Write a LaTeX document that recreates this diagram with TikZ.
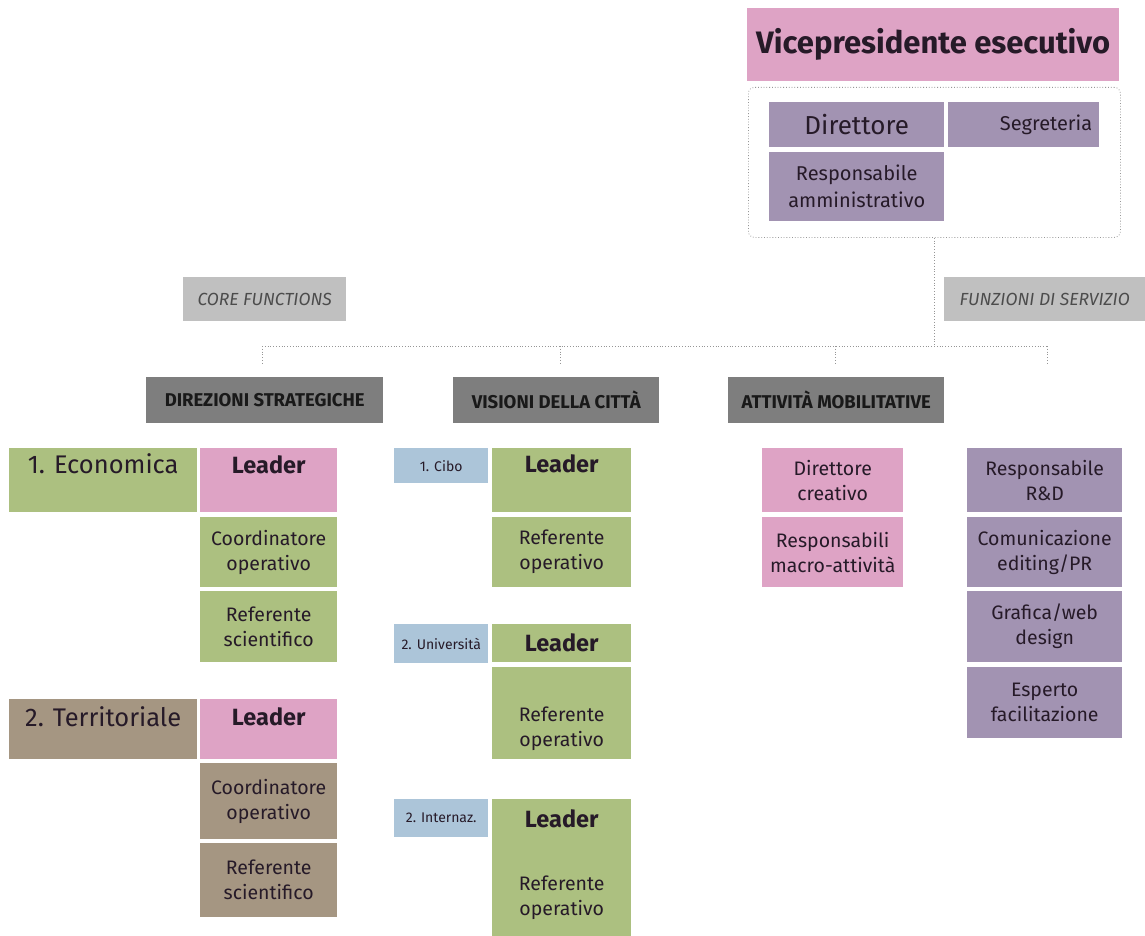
\documentclass[tikz,border=0pt]{standalone}
\usepackage{fontspec}
\setmainfont{Fira Sans}
\usetikzlibrary{positioning}
\definecolor{ink}{RGB}{38,26,40}
\definecolor{pinkfill}{RGB}{222,163,197}
\definecolor{lilac}{RGB}{162,147,178}
\definecolor{greenfill}{RGB}{172,192,128}
\definecolor{brownfill}{RGB}{165,150,130}
\definecolor{bluefill}{RGB}{172,197,217}
\definecolor{headgray}{RGB}{126,126,126}
\definecolor{taggray}{RGB}{192,192,192}
\definecolor{linegray}{RGB}{150,150,150}
\def\CxA{9}
\def\CxB{200}
\def\CxC{394}
\def\CxD{492}
\def\CxE{762}
\def\CxF{967}
\tikzset{
  cell/.style={
    anchor=north west, inner sep=0pt, align=center, text=ink,
    font=\fontsize{19.5}{25}\selectfont,
  },
  lead/.style={cell, font=\fontsize{23.5}{26}\selectfont\bfseries},
  area/.style={cell, font=\fontsize{25.5}{28}\selectfont},
  city/.style={cell, fill=bluefill, minimum width=94pt, font=\fontsize{14}{16}\selectfont},
  head/.style={
    cell, fill=headgray, minimum height=46pt,
    font=\fontsize{18.5}{21}\selectfont\bfseries, text=black!90,
  },
  tag/.style={
    cell, fill=taggray, minimum height=44pt,
    font=\fontsize{17.5}{20}\selectfont\itshape, text=black!70,
  },
  staffbox/.style={anchor=north west, draw=linegray, dotted, line width=0.8pt, rounded corners=6pt},
  bus/.style={draw=linegray, dotted, line width=0.8pt},
}
\begin{document}
\begin{tikzpicture}[x=1pt,y=-1pt]
  \useasboundingbox (0,0) rectangle (1145,936);

  % vertice
  \node[cell, fill=pinkfill, minimum width=372pt, minimum height=73pt, font=\fontsize{31}{34}\selectfont\bfseries] (vp) at (747,8) {Vicepresidente esecutivo};
  \node[staffbox, minimum width=372pt, minimum height=150pt] (staff) at (748,87) {};
  \node[cell, fill=lilac, minimum width=175pt, minimum height=45pt, font=\fontsize{26}{28}\selectfont] (dir) at (769,102) {Direttore};
  \node[cell, fill=lilac, text width=137pt, inner xsep=7pt, align=right, minimum height=45pt, font=\fontsize{20}{22}\selectfont] (seg) at (948,102) {Segreteria};
  \node[cell, fill=lilac, minimum width=175pt, minimum height=69pt, font=\fontsize{20}{27}\selectfont] (amm) at (769,152) {Responsabile\\amministrativo};

  \node[tag, minimum width=163pt] (core) at (183,277) {CORE FUNCTIONS};
  \node[tag, minimum width=201pt] (serv) at (944,277) {FUNZIONI DI SERVIZIO};

  % linee
  \coordinate (busL) at (262,346);
  \coordinate (busR) at (1047,346);
  \coordinate (drop1) at (262,364);
  \coordinate (drop2) at (560,364);
  \coordinate (drop3) at (835,364);
  \coordinate (drop4) at (1047,364);
  \draw[bus] (staff.south) -- (staff.south |- busL);
  \draw[bus] (busL) -- (busR);
  \foreach \n in {1,...,4} \draw[bus] (drop\n |- busL) -- (drop\n);

  \node[head, minimum width=237pt] (hdS) at (146,377) {DIREZIONI STRATEGICHE};
  \node[head, minimum width=206pt] (hdV) at (453,377) {VISIONI DELLA CITTÀ};
  \node[head, minimum width=216pt] (hdA) at (728,377) {ATTIVITÀ MOBILITATIVE};

  % direzioni strategiche
  \node[area, fill=greenfill, minimum width=188pt, text height=25pt, text depth=39pt] (eco) at (\CxA,448) {1. Economica};
  \node[lead, fill=pinkfill, minimum width=137pt, text height=25pt, text depth=39pt] (ld1) at (\CxB,448) {Leader};
  \node[cell, fill=greenfill, minimum width=137pt, minimum height=70pt] (co1) at (\CxB,517) {Coordinatore\\operativo};
  \node[cell, fill=greenfill, minimum width=137pt, minimum height=71pt] (rs1) at (\CxB,591) {Referente\\scientifico};
  \node[area, fill=brownfill, minimum width=188pt, text height=27pt, text depth=33pt] (ter) at (\CxA,699) {2. Territoriale};
  \node[lead, fill=pinkfill, minimum width=137pt, text height=26pt, text depth=34pt] (ld2) at (\CxB,699) {Leader};
  \node[cell, fill=brownfill, minimum width=137pt, minimum height=76pt] (co2) at (\CxB,763) {Coordinatore\\operativo};
  \node[cell, fill=brownfill, minimum width=137pt, minimum height=74pt] (rs2) at (\CxB,843) {Referente\\scientifico};

  % visioni della citta
  \node[city, minimum height=35pt] (cibo) at (\CxC,448) {1. Cibo};
  \node[lead, fill=greenfill, minimum width=139pt, text height=24pt, text depth=40pt] (ld3) at (\CxD,448) {Leader};
  \node[cell, fill=greenfill, minimum width=139pt, minimum height=70pt] (ro3) at (\CxD,517) {Referente\\operativo};
  \node[city, minimum height=39pt] (uni) at (\CxC,624) {2. Università};
  \node[lead, fill=greenfill, minimum width=139pt, minimum height=38pt] (ld4) at (\CxD,624) {Leader};
  \node[cell, fill=greenfill, text width=139pt, text height=54pt, text depth=38pt] (ro4) at (\CxD,667) {Referente\\operativo};
  \node[city, minimum height=38pt] (intz) at (\CxC,799) {2. Internaz.};
  \node[lead, fill=greenfill, minimum width=139pt, text height=28pt, text depth=33pt] (ld5) at (\CxD,799) {Leader};
  \node[cell, fill=greenfill, minimum width=139pt, minimum height=76pt] (ro5) at (\CxD,860) {Referente\\operativo};

  % attivita mobilitative
  \node[cell, fill=pinkfill, minimum width=141pt, minimum height=64pt] (dcr) at (\CxE,448) {Direttore\\creativo};
  \node[cell, fill=pinkfill, minimum width=141pt, minimum height=70pt] (rma) at (\CxE,517) {Responsabili\\macro-attività};

  % funzioni di servizio
  \node[cell, fill=lilac, minimum width=155pt, minimum height=64pt] (rnd) at (\CxF,448) {Responsabile\\R\&D};
  \node[cell, fill=lilac, minimum width=155pt, minimum height=70pt] (com) at (\CxF,517) {Comunicazione\\editing/PR};
  \node[cell, fill=lilac, minimum width=155pt, minimum height=71pt] (gra) at (\CxF,591) {Grafica/web\\design};
  \node[cell, fill=lilac, minimum width=155pt, minimum height=71pt] (esp) at (\CxF,667) {Esperto\\facilitazione};
\end{tikzpicture}
\end{document}
